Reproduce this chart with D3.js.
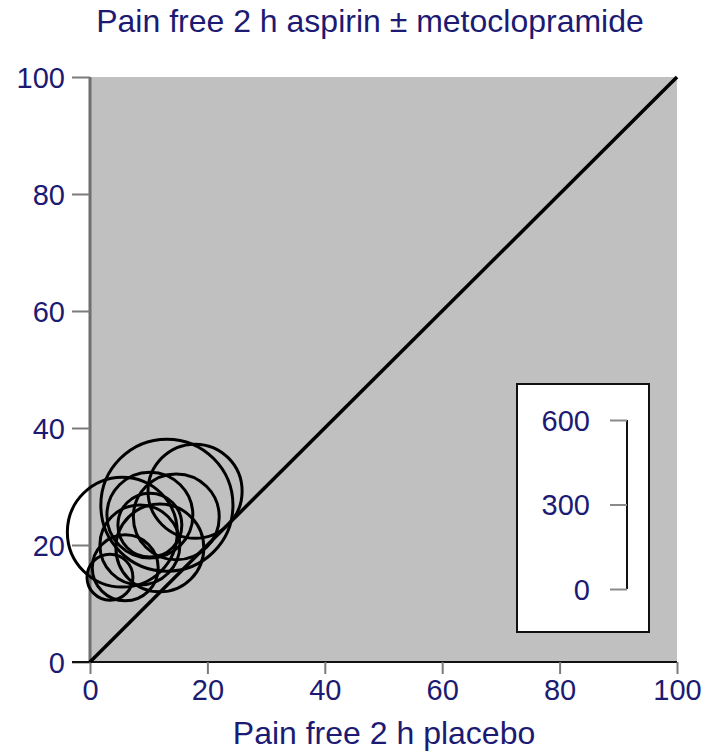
<!doctype html>
<html lang="en">
<head>
	<meta charset="UTF-8">
	<title>Pain free 2 h aspirin ± metoclopramide</title>
	<style>
		body {
			margin: 0;
			background: #fff;
		}

		svg text {
			font-family: "Liberation Sans", Arial, sans-serif;
			fill: #1c1a72;
		}
	</style>
</head>
<body>
	<script src="https://cdn.jsdelivr.net/npm/d3@7"></script>
	<script>
		// trial results: % pain free at 2 h, placebo vs aspirin (± metoclopramide), size = patients
		var placeboPct = [5.5, 13.1, 17.9, 10.2, 14.7, 8.5, 3.4, 6.0, 11.9, 10.2],
			activePct = [22.2, 26.8, 29.2, 25.1, 24.8, 20.0, 14.5, 16.1, 19.5, 23.4],
			patients = [390, 469, 334, 305, 305, 284, 163, 234, 312, 227];

		var axisTicks = [0, 20, 40, 60, 80, 100],
			legendTicks = [0, 300, 600];

		var w = 708,
			h = 755,
			textColor = '#1c1a72',
			tickFont = 29,
			titleFont = 32;

		var svg = d3.select('body')
			.append('svg')
			.attr('width', w)
			.attr('height', h);

		var xScale = d3.scaleLinear()
			.domain([0, 100])
			.range([90, 677]);

		var yScale = d3.scaleLinear()
			.domain([0, 100])
			.range([662, 77]);

		// circle diameter follows the legend bracket
		var legendScale = d3.scaleLinear()
			.domain([0, 600])
			.range([589, 420]);

		var sizeScale = function(n) {
			return legendScale(0) - legendScale(n);
		};

		/**
		* grey plot panel
		*/
		svg.append('rect')
			.attr('x', xScale(0))
			.attr('y', yScale(100))
			.attr('width', xScale(100) - xScale(0))
			.attr('height', yScale(0) - yScale(100))
			.attr('fill', '#c0c0c0');

		/**
		* axes
		*/
		var yAxis = d3.axisLeft(yScale)
			.tickValues(axisTicks)
			.tickSize(18)
			.tickPadding(7);

		var gy = svg.append('g')
			.attr('transform', 'translate(' + xScale(0) + ',0)')
			.call(yAxis);

		gy.select('.domain')
			.attr('stroke', '#6e6e6e')
			.attr('stroke-width', 3)
			.attr('d', 'M0,' + yScale(100) + 'V' + yScale(0));

		gy.selectAll('.tick line')
			.attr('stroke', '#7a7a7a')
			.attr('stroke-width', 2);

		gy.selectAll('.tick text')
			.attr('font-size', tickFont)
			.attr('fill', textColor)
			.attr('dy', '0.36em');

		var xAxis = d3.axisBottom(xScale)
			.tickValues(axisTicks)
			.tickSize(12)
			.tickPadding(5);

		var gx = svg.append('g')
			.attr('transform', 'translate(0,' + yScale(0) + ')')
			.call(xAxis);

		gx.select('.domain')
			.attr('stroke', '#111')
			.attr('stroke-width', 2)
			.attr('d', 'M' + (xScale(0) - 18) + ',0H' + xScale(100));

		gx.selectAll('.tick line')
			.attr('stroke', '#7a7a7a')
			.attr('stroke-width', 2);

		gx.selectAll('.tick text')
			.attr('font-size', tickFont)
			.attr('fill', textColor);

		/**
		* line of equality
		*/
		svg.append('line')
			.attr('x1', xScale(0))
			.attr('y1', yScale(0))
			.attr('x2', xScale(100))
			.attr('y2', yScale(100))
			.attr('stroke', '#000')
			.attr('stroke-width', 3.5);

		/**
		* trial circles
		*/
		svg.selectAll('circle.trial')
			.data(patients)
			.enter()
			.append('circle')
			.attr('class', 'trial')
			.attr('cx', function(d, i) {
				return xScale(placeboPct[i]);
			})
			.attr('cy', function(d, i) {
				return yScale(activePct[i]);
			})
			.attr('r', function(d) {
				return sizeScale(d) / 2;
			})
			.attr('fill', 'none')
			.attr('stroke', '#000')
			.attr('stroke-width', 3);

		/**
		* size legend
		*/
		svg.append('rect')
			.attr('x', 517)
			.attr('y', 384)
			.attr('width', 132)
			.attr('height', 248)
			.attr('fill', '#fff')
			.attr('stroke', '#111')
			.attr('stroke-width', 2);

		var legendAxis = d3.axisLeft(legendScale)
			.tickValues(legendTicks)
			.tickSize(17)
			.tickPadding(20);

		var gl = svg.append('g')
			.attr('transform', 'translate(627,0)')
			.call(legendAxis);

		gl.select('.domain')
			.attr('stroke', '#111')
			.attr('stroke-width', 2)
			.attr('d', 'M0,' + legendScale(600) + 'V' + legendScale(0));

		gl.selectAll('.tick line')
			.attr('stroke', '#8a8a8a')
			.attr('stroke-width', 2);

		gl.selectAll('.tick text')
			.attr('font-size', tickFont)
			.attr('fill', textColor)
			.attr('dy', '0.36em');

		/**
		* titles
		*/
		svg.append('text')
			.attr('x', 370)
			.attr('y', 32)
			.attr('text-anchor', 'middle')
			.attr('font-size', titleFont)
			.text('Pain free 2 h aspirin ± metoclopramide');

		svg.append('text')
			.attr('x', 384)
			.attr('y', 744)
			.attr('text-anchor', 'middle')
			.attr('font-size', titleFont)
			.text('Pain free 2 h placebo');
	</script>
</body>
</html>
